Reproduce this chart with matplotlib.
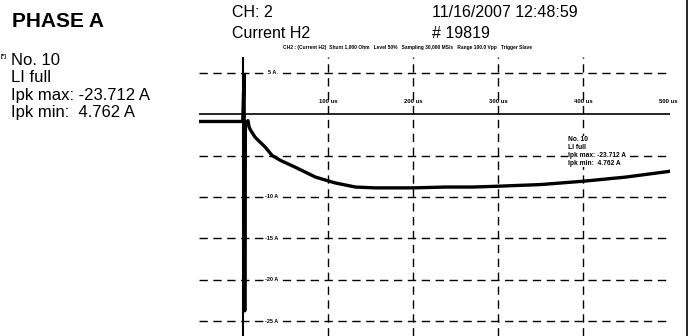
import matplotlib
matplotlib.use("Agg")
import matplotlib.pyplot as plt
from matplotlib.lines import Line2D

plt.rcParams['font.family'] = ['Liberation Sans', 'DejaVu Sans']

# Captured current waveform (time in microseconds, current in amperes)
time_us = [-52, -0.5, 1.0, 1.8, 2.6, 4.0, 5.5, 7.0, 9.0, 14, 20, 26, 34, 44,
           61, 85, 108, 132, 155, 179, 200, 238, 270, 300, 350, 400, 450, 502]
current_a = [-0.9, -0.9, 4.762, -23.712, -1.0, -1.2, -0.8, -1.6, -2.0, -2.8,
             -3.4, -4.0, -5.0, -5.6, -6.4, -7.6, -8.3, -8.8, -8.9, -8.9, -8.9,
             -8.8, -8.8, -8.7, -8.5, -8.1, -7.6, -6.9]

time_grid = [100, 200, 300, 400]
time_labels = ["100 us", "200 us", "300 us", "400 us", "500 us"]
time_label_pos = [100, 200, 300, 400, 500]
amp_grid = [5, -5, -10, -15, -20, -25]
amp_labels = ["5 A", "-10 A", "-15 A", "-20 A", "-25 A"]
amp_label_pos = [5, -10, -15, -20, -25]

info_lines = ["No. 10", "LI full", "Ipk max: -23.712 A", "Ipk min:  4.762 A"]

W, H = 695, 336
fig = plt.figure(figsize=(W / 100, H / 100), dpi=100)
fig.patch.set_facecolor("white")


def fx(px):
    return px / W


def fy(py):
    return 1 - py / H


# scope screen area
x_left, x_right = 199, 670
y_top, y_bot = 57, 336
ax = fig.add_axes([fx(x_left), 0, (x_right - x_left) / W, (y_bot - y_top) / H])
ax.set_xlim(-52, 502)
ax.set_ylim(-26.75, 6.87)
ax.axis("off")

dash = (0, (6, 4))
for a in amp_grid:
    ax.axhline(a, color="black", lw=1.0, ls=dash)
for t in time_grid:
    ax.axvline(t, color="black", lw=1.0, ls=dash)

ax.axhline(0, color="black", lw=1.2)
ax.axvline(0, color="black", lw=1.5)

ax.plot(time_us, current_a, color="black", lw=2.4, solid_joinstyle="round")

for lbl, a in zip(amp_labels, amp_label_pos):
    ax.text(34, a, lbl, fontsize=4.0, fontweight="bold", ha="center", va="center",
            bbox=dict(facecolor="white", edgecolor="none", pad=0.6))
for lbl, t in zip(time_labels, time_label_pos):
    ax.text(t, 1.45, lbl, fontsize=4.2, fontweight="bold", ha="center", va="center")

# small marker annotation inside the screen
for k, line in enumerate(info_lines):
    ax.text(382, -3.3 - k * 0.95, line, fontsize=4.8, fontweight="bold",
            ha="left", va="baseline",
            bbox=dict(facecolor="white", edgecolor="none", pad=0.2))

# header texts
fig.text(fx(12), fy(27), "PHASE A", fontsize=15, fontweight="bold", va="baseline")
fig.text(fx(232), fy(17), "CH: 2", fontsize=11.5, va="baseline")
fig.text(fx(232), fy(38), "Current H2", fontsize=11.5, va="baseline")
fig.text(fx(432), fy(17), "11/16/2007 12:48:59", fontsize=11.5, va="baseline")
fig.text(fx(432), fy(38), "# 19819", fontsize=11.5, va="baseline")
fig.text(fx(283), fy(49),
         "CH2 : (Current H2)  Shunt 1,000 Ohm   Level 50%   Sampling 30,000 MS/s   "
         "Range 100.0 Vpp   Trigger Slave",
         fontsize=3.5, fontweight="bold", va="baseline")

fig.text(fx(1), fy(58), "[*]", fontsize=4, fontweight="bold", va="baseline")
for k, line in enumerate(info_lines):
    fig.text(fx(11), fy(65 + k * 17.3), line, fontsize=12, va="baseline")

# right edge of the page
fig.add_artist(Line2D([fx(687), fx(687)], [0, 1], color="black", lw=1.2,
                      transform=fig.transFigure))

fig.savefig("out.png", dpi=100, facecolor="white")
